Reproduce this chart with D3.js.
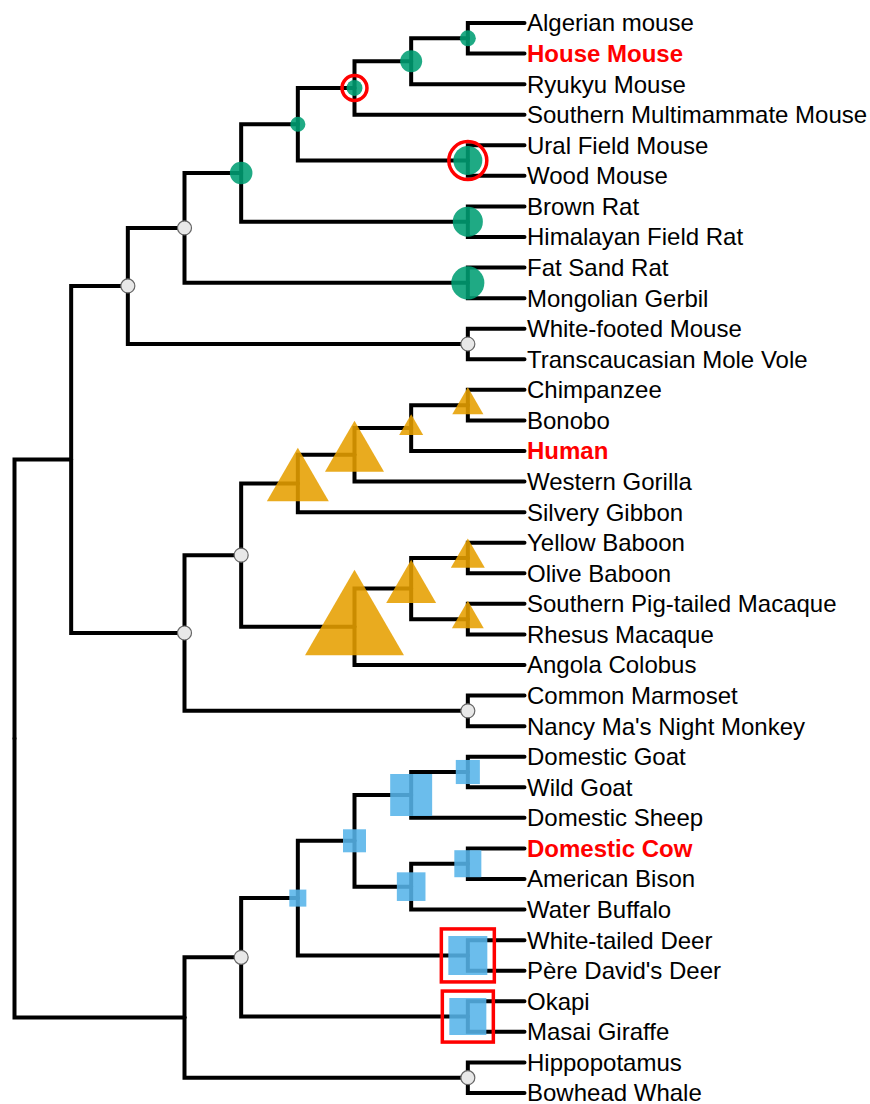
<!DOCTYPE html>
<html>
<head>
<meta charset="utf-8">
<script src="https://cdn.jsdelivr.net/npm/d3@7/dist/d3.min.js"></script>
<style>
  html, body { margin: 0; padding: 0; background: #fff; }
  svg { display: block; }
  text { font-family: "Liberation Sans", Arial, sans-serif; }
</style>
</head>
<body>
<script>
// Mammal phylogeny: every node (clade or species) with its parent.
const nodeIds = [
  "Boreoeutheria",
  "Euarchontoglires", "Laurasiatheria",
  "Glires", "Primates",
  "Muroidea", "Cricetidae",
  "Murinae", "Gerbillinae",
  "MusApodemus", "Rattus",
  "MusMastomys", "Apodemus",
  "Mus", "Southern Multimammate Mouse",
  "MusPair", "Ryukyu Mouse",
  "Algerian mouse", "House Mouse",
  "Ural Field Mouse", "Wood Mouse",
  "Brown Rat", "Himalayan Field Rat",
  "Fat Sand Rat", "Mongolian Gerbil",
  "White-footed Mouse", "Transcaucasian Mole Vole",
  "Catarrhini", "Platyrrhini",
  "Hominoidea", "Cercopithecidae",
  "Hominidae", "Silvery Gibbon",
  "Homininae", "Western Gorilla",
  "Pan", "Human",
  "Chimpanzee", "Bonobo",
  "Papionini", "Angola Colobus",
  "Papio", "Macaca",
  "Yellow Baboon", "Olive Baboon",
  "Southern Pig-tailed Macaque", "Rhesus Macaque",
  "Common Marmoset", "Nancy Ma's Night Monkey",
  "Ruminantia", "Whippomorpha",
  "Pecora", "Giraffidae",
  "Bovidae", "Cervidae",
  "Caprinae", "Bovinae",
  "Capra", "Domestic Sheep",
  "Domestic Goat", "Wild Goat",
  "Bos", "Water Buffalo",
  "Domestic Cow", "American Bison",
  "White-tailed Deer", "Père David's Deer",
  "Okapi", "Masai Giraffe",
  "Hippopotamus", "Bowhead Whale"
];
const nodeParents = [
  "",
  "Boreoeutheria", "Boreoeutheria",
  "Euarchontoglires", "Euarchontoglires",
  "Glires", "Glires",
  "Muroidea", "Muroidea",
  "Murinae", "Murinae",
  "MusApodemus", "MusApodemus",
  "MusMastomys", "MusMastomys",
  "Mus", "Mus",
  "MusPair", "MusPair",
  "Apodemus", "Apodemus",
  "Rattus", "Rattus",
  "Gerbillinae", "Gerbillinae",
  "Cricetidae", "Cricetidae",
  "Primates", "Primates",
  "Catarrhini", "Catarrhini",
  "Hominoidea", "Hominoidea",
  "Hominidae", "Hominidae",
  "Homininae", "Homininae",
  "Pan", "Pan",
  "Cercopithecidae", "Cercopithecidae",
  "Papionini", "Papionini",
  "Papio", "Papio",
  "Macaca", "Macaca",
  "Platyrrhini", "Platyrrhini",
  "Laurasiatheria", "Laurasiatheria",
  "Ruminantia", "Ruminantia",
  "Pecora", "Pecora",
  "Bovidae", "Bovidae",
  "Caprinae", "Caprinae",
  "Capra", "Capra",
  "Bovinae", "Bovinae",
  "Bos", "Bos",
  "Cervidae", "Cervidae",
  "Giraffidae", "Giraffidae",
  "Whippomorpha", "Whippomorpha"
];

// Scored clades: group decides the glyph, score decides its area.
const scoredClades = [
  "MusPair", "Mus", "MusMastomys", "MusApodemus", "Murinae", "Apodemus", "Rattus", "Gerbillinae",
  "Pan", "Homininae", "Hominidae", "Hominoidea", "Papio", "Macaca", "Papionini", "Cercopithecidae",
  "Capra", "Caprinae", "Bovidae", "Bos", "Bovinae", "Pecora", "Cervidae", "Giraffidae"
];
const scoredGroups = [
  "rodent", "rodent", "rodent", "rodent", "rodent", "rodent", "rodent", "rodent",
  "primate", "primate", "primate", "primate", "primate", "primate", "primate", "primate",
  "ungulate", "ungulate", "ungulate", "ungulate", "ungulate", "ungulate", "ungulate", "ungulate"
];
const cladeScores = [
  20, 38, 20, 18, 40, 66, 71, 86,
  42, 25, 151, 166, 50, 44, 108, 424,
  58, 176, 53, 73, 82, 29, 152, 137
];

// Clades without a score.
const unscoredClades = [
  "Glires", "Muroidea", "Cricetidae", "Catarrhini", "Primates", "Platyrrhini", "Ruminantia", "Whippomorpha"
];

// Highlighted clades and species.
const highlightedClades = ["MusMastomys", "Apodemus", "Cervidae", "Giraffidae"];
const highlightedSpecies = ["House Mouse", "Human", "Domestic Cow"];

const groupColors = { rodent: "#009e73", primate: "#e69f00", ungulate: "#56b4e9" };
const groupSymbols = { rodent: d3.symbolCircle, primate: d3.symbolTriangle, ungulate: d3.symbolSquare };

const width = 870, height = 1104;
const svg = d3.select("body").append("svg")
  .attr("width", width).attr("height", height);

const root = d3.stratify()
  .id((d, i) => nodeIds[i])
  .parentId((d, i) => nodeParents[i] || null)(nodeIds.map((id, i) => ({ id })));

const cluster = d3.cluster().nodeSize([1, 1]).separation(() => 1);
cluster(root);

const leaves = root.leaves();
const yScale = d3.scaleLinear()
  .domain(d3.extent(leaves, d => d.x))
  .range([23, 1093]);
const xScale = d3.scaleLinear()
  .domain([0, root.height])
  .range([14.5, 524.5]);

const px = d => xScale(d.y);
const py = d => yScale(d.x);

// Elbow branches
svg.append("g")
  .attr("fill", "none")
  .attr("stroke", "#000")
  .attr("stroke-width", 4)
  .attr("stroke-linecap", "round")
  .selectAll("path")
  .data(root.links())
  .join("path")
  .attr("d", l => `M${px(l.source)},${py(l.source)}V${py(l.target)}H${px(l.target)}`);

const byId = new Map(root.descendants().map(d => [d.id, d]));

// Unscored clade markers
svg.append("g")
  .selectAll("circle")
  .data(unscoredClades.map(id => byId.get(id)))
  .join("circle")
  .attr("cx", px).attr("cy", py)
  .attr("r", 7)
  .attr("fill", "#e8e8e8")
  .attr("stroke", "#666")
  .attr("stroke-width", 1.2);

// Scored clade glyphs (area proportional to score)
const area = d3.scaleLinear().domain([0, 100]).range([0, 1000]);
const scored = scoredClades.map((id, i) => ({
  node: byId.get(id), group: scoredGroups[i], score: cladeScores[i]
}));

svg.append("g")
  .selectAll("path")
  .data(scored)
  .join("path")
  .attr("transform", d => `translate(${px(d.node)},${py(d.node)})`)
  .attr("d", d => d3.symbol(groupSymbols[d.group], area(d.score))())
  .attr("fill", d => groupColors[d.group])
  .attr("fill-opacity", 0.88);

// Red highlight outlines around selected clades
const hl = svg.append("g").attr("fill", "none").attr("stroke", "#f00").attr("stroke-width", 3.5);
highlightedClades.forEach(id => {
  const s = scored.find(d => d.node.id === id);
  const a = area(s.score);
  const cx = px(s.node), cy = py(s.node);
  if (s.group === "rodent") {
    hl.append("circle").attr("cx", cx).attr("cy", cy).attr("r", Math.sqrt(a / Math.PI) + 4.5);
  } else {
    const half = Math.sqrt(a) / 2 + 7;
    hl.append("rect").attr("x", cx - half).attr("y", cy - half)
      .attr("width", half * 2).attr("height", half * 2);
  }
});

// Species labels
svg.append("g")
  .selectAll("text")
  .data(leaves)
  .join("text")
  .attr("x", d => px(d) + 2.5)
  .attr("y", py)
  .attr("dy", "0.35em")
  .attr("font-size", 24)
  .attr("fill", d => highlightedSpecies.includes(d.id) ? "#f00" : "#000")
  .attr("font-weight", d => highlightedSpecies.includes(d.id) ? "bold" : "normal")
  .text(d => d.id);
</script>
</body>
</html>
